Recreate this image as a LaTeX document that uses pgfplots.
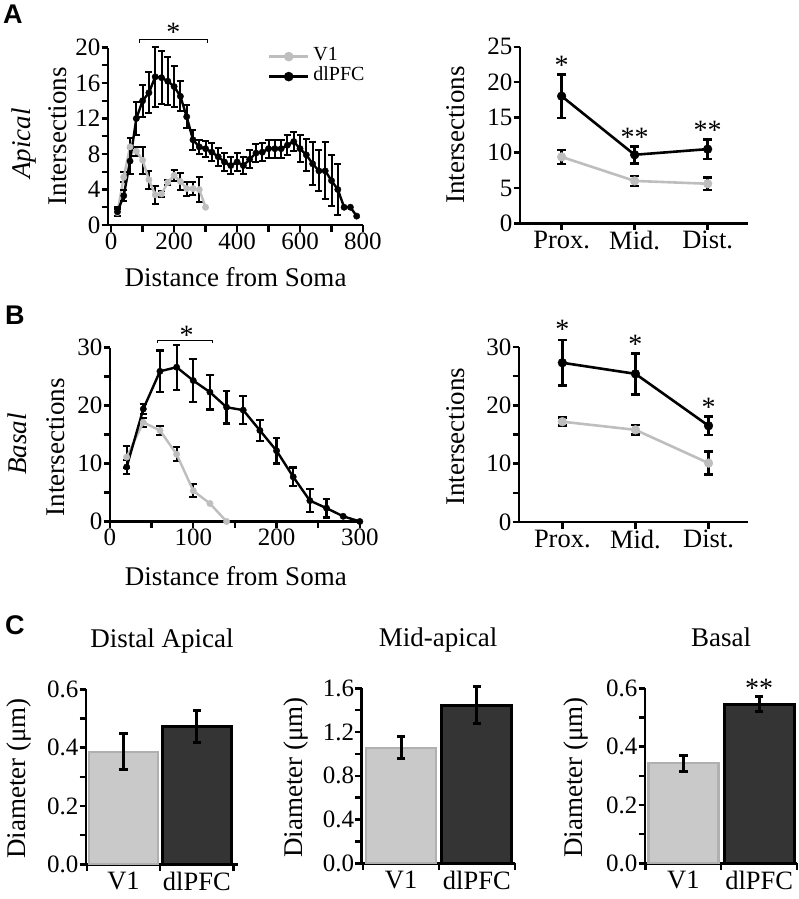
\documentclass[border=0pt]{standalone}
\usepackage{fontspec}
\setmainfont{Liberation Serif}
\newfontfamily\arialfont{Liberation Sans}
\usepackage{pgfplots}
\pgfplotsset{compat=1.18}

\definecolor{vgray}{RGB}{190,190,190}
\definecolor{barlight}{RGB}{201,201,201}
\definecolor{baredge}{RGB}{176,176,176}
\definecolor{bardark}{RGB}{52,52,52}

\newcommand{\tk}{\fontsize{25}{25}\selectfont}
\newcommand{\lb}{\fontsize{27}{27}\selectfont}
\newcommand{\ct}{\fontsize{26.5}{26.5}\selectfont}
\newcommand{\st}{\fontsize{28}{28}\selectfont}

\pgfplotsset{
  myax/.style={
    scale only axis, anchor=south west, clip=false,
    axis lines=left, axis line style={-, line width=2.8pt, black},
    tick align=outside, major tick length=6.5pt, minor tick length=6.5pt,
    tick style={line width=2.4pt, black},
    tick label style={font=\tk, inner sep=1pt},
    /pgf/number format/assume math mode=true,
    label style={font=\lb},
    xlabel style={anchor=center}, ylabel style={anchor=center},
  },
  ebar/.style 2 args={error bars/.cd, y dir=both, y explicit,
     error bar style={line width=#1, black, solid},
     error mark options={rotate=90, mark size=#2, line width=#1, black, solid}},
}

\begin{document}
\begin{tikzpicture}
\useasboundingbox (0pt,0pt) rectangle (798pt,-899pt);

% ---------------- A left
\begin{axis}[myax, at={(108pt,-225pt)}, width=255pt, height=177.5pt,
  xmin=-10, xmax=800, ymin=0, ymax=20,
  xtick={0,200,...,800}, minor x tick num=1,
  ytick={0,4,...,20}, minor y tick num=1,
  xlabel={Distance from Soma}, xlabel style={at={(axis description cs:0.5,-0.293)}},
  ylabel={Intersections}, ylabel style={at={(axis description cs:-0.198,0.5)}},
  legend style={at={(axis description cs:0.6275,1.005)}, anchor=north west, draw=none, fill=none,
    inner sep=0pt, outer sep=0pt, row sep=0pt, column sep=4pt,
    font=\fontsize{20}{20}\selectfont,
    nodes={inner sep=0pt, outer sep=0pt, text height=14pt, text depth=6pt}},
  legend cell align=left,
  legend image code/.code={\draw[mark repeat=2, mark phase=2, #1, mark size=4.6pt] plot coordinates {(0pt,0pt) (19.5pt,0pt) (39pt,0pt)};},
]
\addplot[only marks, mark=none, forget plot, ebar={2pt}{3.5pt}] coordinates {
(20,1.4)+-(0,0.4) (40,5.4)+-(0,0.6) (60,8.8)+-(0,1.0) (80,8.3)+-(0,0.5) (100,7.3)+-(0,1.5)
(120,5.1)+-(0,1.0) (140,3.4)+-(0,1.0) (160,3.5)+-(0,0.3) (180,4.8)+-(0,0.3) (200,5.6)+-(0,0.6)
(220,4.9)+-(0,1.0) (240,4.1)+-(0,0.8) (260,4.1)+-(0,0.7) (280,4.0)+-(0,1.4)};
\addplot[vgray, line width=2.4pt, mark=*, mark size=3.2pt, mark options={line width=0.4pt}] coordinates {
(20,1.4)(40,5.4)(60,8.8)(80,8.3)(100,7.3)(120,5.1)(140,3.4)(160,3.5)(180,4.8)(200,5.6)(220,4.9)(240,4.1)(260,4.1)(280,4.0)(300,2.0)};
\addlegendentry{V1}
\addplot[only marks, mark=none, forget plot, ebar={2pt}{3.5pt}] coordinates {
(20,1.5)+-(0,0.5) (40,3.3)+-(0,0.6) (60,7.2)+-(0,1.5) (80,12.0)+-(0,1.9) (100,14.0)+-(0,1.8)
(120,14.9)+-(0,2.3) (140,16.7)+-(0,3.4) (160,16.6)+-(0,3.0) (180,16.2)+-(0,2.7) (200,15.6)+-(0,2.3)
(220,14.5)+-(0,1.7) (240,12.2)+-(0,1.3) (260,9.6)+-(0,1.1) (280,8.8)+-(0,0.8) (300,8.6)+-(0,0.9)
(320,8.2)+-(0,1.0) (340,7.7)+-(0,1.0) (360,7.1)+-(0,1.0) (380,6.7)+-(0,1.0) (400,7.1)+-(0,1.0)
(420,6.7)+-(0,1.0) (440,7.4)+-(0,1.0) (460,8.1)+-(0,1.0) (480,8.2)+-(0,1.0) (500,8.6)+-(0,1.0)
(520,8.6)+-(0,1.0) (540,8.6)+-(0,1.0) (560,9.0)+-(0,1.1) (580,9.4)+-(0,1.1) (600,8.6)+-(0,1.5)
(620,7.9)+-(0,1.8) (640,6.9)+-(0,2.4) (660,6.1)+-(0,2.3) (680,6.1)+-(0,3.2) (700,5.0)+-(0,2.9)
(720,4.0)+-(0,2.9)};
\addplot[black, line width=2.4pt, mark=*, mark size=3.2pt, mark options={line width=0.4pt}] coordinates {
(20,1.5)(40,3.3)(60,7.2)(80,12.0)(100,14.0)(120,14.9)(140,16.7)(160,16.6)(180,16.2)(200,15.6)
(220,14.5)(240,12.2)(260,9.6)(280,8.8)(300,8.6)(320,8.2)(340,7.7)(360,7.1)(380,6.7)(400,7.1)
(420,6.7)(440,7.4)(460,8.1)(480,8.2)(500,8.6)(520,8.6)(540,8.6)(560,9.0)(580,9.4)(600,8.6)
(620,7.9)(640,6.9)(660,6.1)(680,6.1)(700,5.0)(720,4.0)(740,2.0)(760,2.0)(780,1.0)};
\addlegendentry{dlPFC}
\draw[line width=1.3pt] (axis cs:90,20.55) |- (axis cs:305,20.9) -- (axis cs:305,20.55);
\node[font=\st, anchor=base, inner sep=0pt] at (axis cs:198,20.7) {*};
\end{axis}

% ---------------- A right
\begin{axis}[myax, at={(520pt,-223.3pt)}, width=227.8pt, height=176.6pt,
  xmin=-0.57, xmax=2.55, ymin=0, ymax=25,
  ytick={0,5,...,25},
  xtick={0,1,2}, xticklabels={Prox.,Mid.,Dist.}, xticklabel style={font=\ct},
  ylabel={Intersections}, ylabel style={at={(axis description cs:-0.282,0.5)}},
]
\addplot[only marks, mark=none, forget plot, ebar={2.6pt}{4.2pt}] coordinates {(0,9.4)+-(0,1.0) (1,6.0)+-(0,0.7) (2,5.6)+-(0,0.9)};
\addplot[vgray, line width=2.6pt, mark=*, mark size=4.4pt, mark options={line width=0.4pt}] coordinates {(0,9.4)(1,6.0)(2,5.6)};
\addplot[only marks, mark=none, forget plot, ebar={2.6pt}{4.2pt}] coordinates {(0,18.0)+-(0,3.1) (1,9.7)+-(0,1.2) (2,10.5)+-(0,1.4)};
\addplot[black, line width=2.6pt, mark=*, mark size=4.4pt, mark options={line width=0.4pt}] coordinates {(0,18.0)(1,9.7)(2,10.5)};
\node[font=\st, anchor=base, inner sep=0pt] at (axis cs:0,21.0) {*};
\node[font=\st, anchor=base, inner sep=0pt] at (axis cs:1,10.9) {**};
\node[font=\st, anchor=base, inner sep=0pt] at (axis cs:2,11.9) {**};
\end{axis}

% ---------------- B left
\begin{axis}[myax, at={(110pt,-521.5pt)}, width=251.5pt, height=174pt,
  xmin=0, xmax=302, ymin=0, ymax=30,
  xtick={0,100,200,300}, minor x tick num=1,
  ytick={0,10,20,30}, minor y tick num=1,
  xlabel={Distance from Soma}, xlabel style={at={(axis description cs:0.5,-0.312)}},
  ylabel={Intersections}, ylabel style={at={(axis description cs:-0.2155,0.428)}},
]
\addplot[only marks, mark=none, forget plot, ebar={2.2pt}{3.8pt}] coordinates {
(20,11.1)+-(0,1.9) (40,17.1)+-(0,0.8) (60,15.7)+-(0,0.8) (80,11.6)+-(0,1.2) (100,5.3)+-(0,1.1)};
\addplot[vgray, line width=2.4pt, mark=*, mark size=3.2pt, mark options={line width=0.4pt}] coordinates {
(20,11.1)(40,17.1)(60,15.7)(80,11.6)(100,5.3)(120,3.1)(140,0)};
\addplot[only marks, mark=none, forget plot, ebar={2.2pt}{3.8pt}] coordinates {
(20,9.4)+-(0,1.2) (40,19.4)+-(0,0.9) (60,25.9)+-(0,3.6) (80,26.6)+-(0,3.9) (100,24.3)+-(0,3.7)
(120,22.3)+-(0,3.0) (140,19.7)+-(0,2.8) (160,19.2)+-(0,2.4) (180,15.7)+-(0,1.8) (200,12.2)+-(0,2.2)
(220,7.7)+-(0,1.6) (240,3.6)+-(0,2.0) (260,2.3)+-(0,1.6)};
\addplot[black, line width=2.4pt, mark=*, mark size=3.2pt, mark options={line width=0.4pt}] coordinates {
(20,9.4)(40,19.4)(60,25.9)(80,26.6)(100,24.3)(120,22.3)(140,19.7)(160,19.2)(180,15.7)(200,12.2)
(220,7.7)(240,3.6)(260,2.3)(280,0.9)(300,0)};
\draw[line width=1.3pt] (axis cs:57,30.75) |- (axis cs:123,31.2) -- (axis cs:123,30.75);
\node[font=\st, anchor=base, inner sep=0pt] at (axis cs:92,30.6) {*};
\end{axis}

% ---------------- B right
\begin{axis}[myax, at={(519pt,-522pt)}, width=229pt, height=175pt,
  xmin=-0.593, xmax=2.54, ymin=0, ymax=30,
  ytick={0,10,20,30}, minor y tick num=1,
  xtick={0,1,2}, xticklabels={Prox.,Mid.,Dist.}, xticklabel style={font=\ct},
  ylabel={Intersections}, ylabel style={at={(axis description cs:-0.276,0.487)}},
]
\addplot[only marks, mark=none, forget plot, ebar={2.6pt}{4.2pt}] coordinates {(0,17.2)+-(0,0.7) (1,15.8)+-(0,0.8) (2,10.1)+-(0,2.0)};
\addplot[vgray, line width=2.6pt, mark=*, mark size=4.4pt, mark options={line width=0.4pt}] coordinates {(0,17.2)(1,15.8)(2,10.1)};
\addplot[only marks, mark=none, forget plot, ebar={2.6pt}{4.2pt}] coordinates {(0,27.3)+-(0,3.9) (1,25.4)+-(0,3.5) (2,16.5)+-(0,1.6)};
\addplot[black, line width=2.6pt, mark=*, mark size=4.4pt, mark options={line width=0.4pt}] coordinates {(0,27.3)(1,25.4)(2,16.5)};
\node[font=\st, anchor=base, inner sep=0pt] at (axis cs:0,31.5) {*};
\node[font=\st, anchor=base, inner sep=0pt] at (axis cs:1,28.9) {*};
\node[font=\st, anchor=base, inner sep=0pt] at (axis cs:2,18.1) {*};
\end{axis}

% ---------------- C1
\begin{axis}[myax, at={(86pt,-864.3pt)}, width=152pt, height=175pt,
  xmin=-0.51, xmax=1.56, ymin=0, ymax=0.6,
  ytick={0,0.2,0.4,0.6}, minor y tick num=1,
  yticklabel style={/pgf/number format/.cd, fixed, fixed zerofill, precision=1},
  xtick={-0.5,0.5,1.5}, x tick label as interval, xticklabels={V1,dlPFC}, xticklabel style={font=\ct},
  ylabel={Diameter (μm)}, ylabel style={at={(axis description cs:-0.441,0.49)}},
  title={Distal Apical}, title style={at={(axis description cs:0.5,1)}, anchor=base, yshift=36pt, font=\lb},
]
\addplot[ybar, bar shift=0pt, bar width=69pt, fill=barlight, draw=baredge, line width=2.2pt, ebar={3pt}{4.2pt}] coordinates {(0,0.386)+-(0,0.062)};
\addplot[ybar, bar shift=0pt, bar width=69pt, fill=bardark, draw=black, line width=3pt, ebar={3pt}{4.2pt}] coordinates {(1,0.472)+-(0,0.055)};
\end{axis}

% ---------------- C2
\begin{axis}[myax, at={(361.7pt,-863.3pt)}, width=153pt, height=175pt,
  xmin=-0.52, xmax=1.50, ymin=0, ymax=1.6,
  ytick={0,0.4,0.8,1.2,1.6}, minor y tick num=1,
  yticklabel style={/pgf/number format/.cd, fixed, fixed zerofill, precision=1},
  xtick={-0.5,0.5,1.5}, x tick label as interval, xticklabels={V1,dlPFC}, xticklabel style={font=\ct},
  ylabel={Diameter (μm)}, ylabel style={at={(axis description cs:-0.429,0.49)}},
  title={Mid-apical}, title style={at={(axis description cs:0.5,1)}, anchor=base, yshift=36pt, font=\lb},
]
\addplot[ybar, bar shift=0pt, bar width=70pt, fill=barlight, draw=baredge, line width=2.2pt, ebar={3pt}{4.2pt}] coordinates {(0,1.057)+-(0,0.10)};
\addplot[ybar, bar shift=0pt, bar width=70pt, fill=bardark, draw=black, line width=3pt, ebar={3pt}{4.2pt}] coordinates {(1,1.445)+-(0,0.17)};
\end{axis}

% ---------------- C3
\begin{axis}[myax, at={(645pt,-863.3pt)}, width=152pt, height=175pt,
  xmin=-0.507, xmax=1.50, ymin=0, ymax=0.6,
  ytick={0,0.2,0.4,0.6}, minor y tick num=1,
  yticklabel style={/pgf/number format/.cd, fixed, fixed zerofill, precision=1},
  xtick={-0.5,0.5,1.5}, x tick label as interval, xticklabels={V1,dlPFC}, xticklabel style={font=\ct},
  ylabel={Diameter (μm)}, ylabel style={at={(axis description cs:-0.454,0.49)}},
  title={Basal}, title style={at={(axis description cs:0.5,1)}, anchor=base, yshift=36pt, font=\lb},
]
\addplot[ybar, bar shift=0pt, bar width=70pt, fill=barlight, draw=baredge, line width=2.2pt, ebar={3pt}{4.2pt}] coordinates {(0,0.343)+-(0,0.028)};
\addplot[ybar, bar shift=0pt, bar width=70pt, fill=bardark, draw=black, line width=3pt, ebar={3pt}{4.2pt}] coordinates {(1,0.546)+-(0,0.027)};
\node[font=\st, anchor=base, inner sep=0pt] at (axis cs:1,0.567) {**};
\end{axis}

% panel letters and row labels
\node[anchor=base west, inner sep=0pt, font=\arialfont\bfseries\fontsize{27}{27}\selectfont] at (3pt,-24pt) {A};
\node[anchor=base west, inner sep=0pt, font=\arialfont\bfseries\fontsize{27}{27}\selectfont] at (5pt,-324pt) {B};
\node[anchor=base west, inner sep=0pt, font=\arialfont\bfseries\fontsize{27}{27}\selectfont] at (5pt,-634pt) {C};
\node[rotate=90, font=\lb\itshape, inner sep=0pt] at (24pt,-143.5pt) {Apical};
\node[rotate=90, font=\lb\itshape, inner sep=0pt] at (17pt,-444pt) {Basal};
\end{tikzpicture}
\end{document}
